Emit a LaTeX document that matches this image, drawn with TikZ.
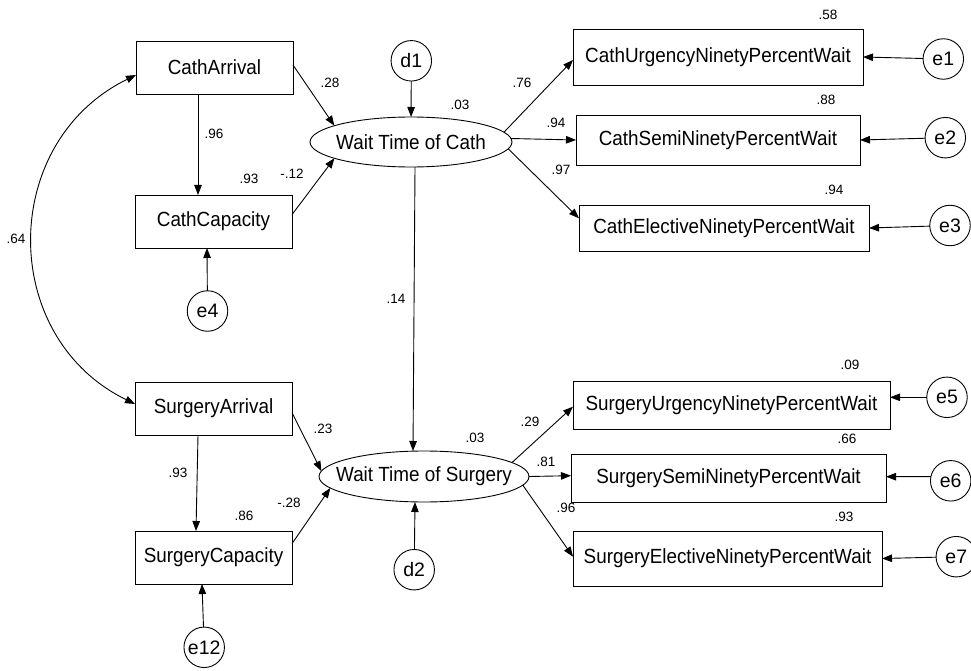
\documentclass[tikz,border=0pt]{standalone}
\usepackage{fontspec}
\setmainfont{Liberation Sans}
\newfontfamily\boxfont[FakeStretch=0.92]{Liberation Sans}
\usetikzlibrary{arrows.meta,shapes.geometric,calc}
\tikzset{
  every node/.style={inner sep=0pt, outer sep=0pt},
  obs/.style={draw, line width=0.9pt, rectangle, font=\boxfont\fontsize{20.5}{24}\selectfont},
  lat/.style={draw, line width=0.9pt, ellipse, font=\boxfont\fontsize{20.5}{24}\selectfont},
  err/.style={draw, line width=0.9pt, circle, minimum size=40.5pt, font=\fontsize{19.5}{23}\selectfont},
  coef/.style={font=\fontsize{13.5}{16}\selectfont},
  arr/.style={-{Triangle[length=10pt,width=7.5pt]}, line width=0.9pt},
  arrtwo/.style={{Triangle[length=10pt,width=7.5pt]}-{Triangle[length=10pt,width=7.5pt]}, line width=0.9pt},
}
\begin{document}
\begin{tikzpicture}[x=1pt,y=-1pt]
\useasboundingbox (0,0) rectangle (971,671);
\fill[white] (0,0) rectangle (971,671);
\clip (0,0) rectangle (971,671);

% observed left
\node[obs, minimum width=157pt, minimum height=53pt] (ca) at (214.5,67.5) {CathArrival};
\node[obs, minimum width=157pt, minimum height=53pt] (cc) at (213.5,221.5) {CathCapacity};
\node[obs, minimum width=157pt, minimum height=53pt] (sa) at (213.5,408.5) {SurgeryArrival};
\node[obs, minimum width=157pt, minimum height=53pt] (sc) at (213.5,557.5) {SurgeryCapacity};

% latent
\node[lat, minimum width=202pt, minimum height=50pt] (cw) at (411,142) {\makebox[100pt]{Wait Time of Cath}};
\node[lat, minimum width=210pt, minimum height=51pt] (sw) at (424,476.5) {\makebox[100pt]{Wait Time of Surgery}};

% observed right
\node[obs, minimum width=290pt, minimum height=56pt] (cu) at (718,57) {CathUrgencyNinetyPercentWait};
\node[obs, minimum width=284pt, minimum height=50pt] (cs) at (718,140) {CathSemiNinetyPercentWait};
\node[obs, minimum width=290pt, minimum height=46pt] (ce) at (724,228) {CathElectiveNinetyPercentWait};
\node[obs, minimum width=317pt, minimum height=48pt] (su) at (731.5,405) {SurgeryUrgencyNinetyPercentWait};
\node[obs, minimum width=315pt, minimum height=48pt] (ss) at (728.5,478) {SurgerySemiNinetyPercentWait};
\node[obs, minimum width=309pt, minimum height=55pt] (se) at (727.5,558.5) {SurgeryElectiveNinetyPercentWait};

% error terms
\node[err] (d1) at (411.3,60.8) {d1};
\node[err] (d2) at (414.2,569.7) {d2};
\node[err] (e1) at (943.3,59) {e1};
\node[err] (e2) at (945.3,137.7) {e2};
\node[err] (e3) at (950,225.5) {e3};
\node[err] (e4) at (207.5,311) {e4};
\node[err] (e5) at (947,397.3) {e5};
\node[err] (e6) at (950.7,480.8) {e6};
\node[err] (e7) at (956.3,556.7) {e7};
\node[err] (e12) at (204.2,647.3) {e12};

% connectors
\draw[arr] ([yshift=2.5pt]ca.east) -- (cw.168);
\draw[arr] (cc.5) -- (cw.192);
\draw[arr] ([xshift=-16.5pt]ca.south) -- ([xshift=-15.5pt]cc.north);
\draw[arr] (d1) -- (cw);
\draw[arr] (e4) -- ([xshift=-6.5pt]cc.south);
\draw[arrtwo] ([yshift=-7.5pt]ca.west) .. controls +(-137,67) and +(-137,-67) .. ([yshift=4.5pt]sa.west);
\draw[arr] ([xshift=4pt]cw.south) -- ([xshift=-11pt]sw.north);
\draw[arr] (sa.-3) -- (sw.177);
\draw[arr] (sc.10) -- (sw.187);
\draw[arr] ([xshift=-15.5pt]sa.south) -- ([xshift=-17.5pt]sc.north);
\draw[arr] (d2) -- ([xshift=-9pt]sw.south);
\draw[arr] (e12) -- ([xshift=-11.5pt]sc.south);

\draw[arr] (cw.6) -- ([yshift=-3pt]cu.west);
\draw[arr] (cw.2) -- (cs.west);
\draw[arr] (cw.-4) -- ([yshift=9.7pt]ce.west);
\draw[arr] (sw.9) -- ([yshift=-1.7pt]su.west);
\draw[arr] (sw.east) -- ([yshift=2.3pt]ss.west);
\draw[arr] (sw.-5) -- ([yshift=1.8pt]se.west);

\draw[arr] (e1) -- (cu.east);
\draw[arr] (e2) -- (cs.east);
\draw[arr] (e3) -- (ce.east);
\draw[arr] (e5.west) -- ([yshift=7.7pt]su.east);
\draw[arr] (e6.168) -- ([yshift=1.3pt]ss.east);
\draw[arr] (e7) -- (se.east);

% coefficients
\node[coef] (l58) at (828,15) {.58};
\node[coef] (l88) at (826,100) {.88};
\node[coef] (l94b) at (834,190) {.94};
\node[coef] (l76) at (522,83) {.76};
\node[coef] (l94) at (556,123) {.94};
\node[coef] (l97) at (561,170) {.97};
\node[coef] (l03a) at (460,105) {.03};
\node[coef] (l28) at (330,83) {.28};
\node[coef] (l96a) at (214,134) {.96};
\node[coef] (l93a) at (249,179) {.93};
\node[coef] (l12) at (292,174) {-.12};
\node[coef] (l64) at (16,239) {.64};
\node[coef] (l14) at (396,299) {.14};
\node[coef] (l09) at (850,365) {.09};
\node[coef] (l66) at (847,439) {.66};
\node[coef] (l93c) at (844,517) {.93};
\node[coef] (l29) at (530,422) {.29};
\node[coef] (l81) at (546,462) {.81};
\node[coef] (l96b) at (566,508) {.96};
\node[coef] (l23) at (323,429) {.23};
\node[coef] (l93b) at (178,473) {.93};
\node[coef] (l86) at (244,516) {.86};
\node[coef] (l28n) at (289,503) {-.28};
\node[coef] (l03b) at (475,438) {.03};
\end{tikzpicture}
\end{document}
